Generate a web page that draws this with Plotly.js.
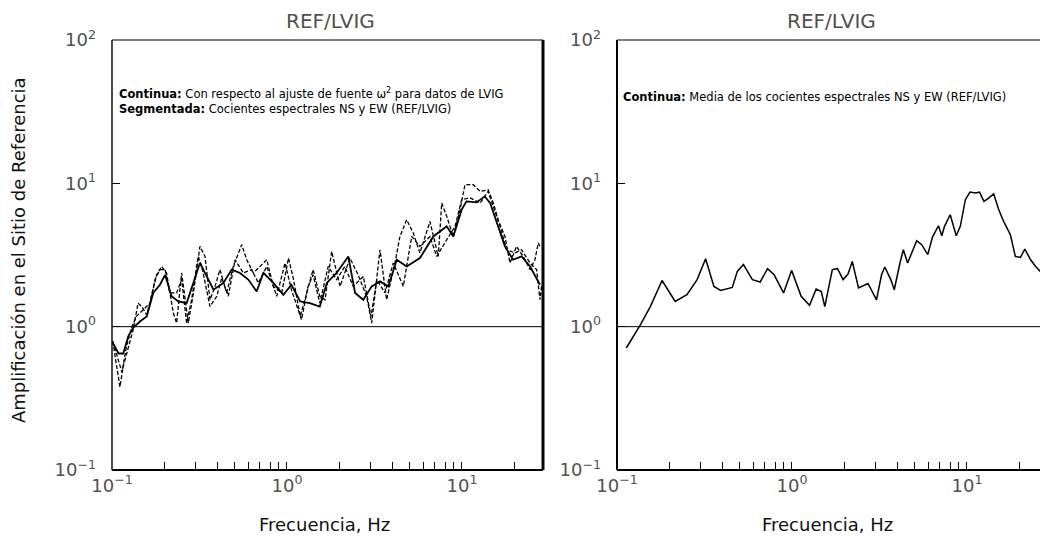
<!DOCTYPE html>
<html>
<head>
<meta charset="utf-8">
<script src="https://cdn.plot.ly/plotly-3.0.1.min.js"></script>
<style>
html,body{margin:0;padding:0;overflow:hidden;background:#fff;}
#chart{width:1060px;height:539px;}
</style>
</head>
<body>
<div id="chart"></div>
<script>
// ---------- DATA ----------
// Left panel: solid = ratio with respect to omega^2 source fit (LVIG)
const leftSolidFreq = [0.100,0.109,0.116,0.124,0.132,0.145,0.158,0.172,0.188,0.201,0.219,0.239,0.267,0.292,0.318,0.348,0.380,0.433,0.483,0.539,0.601,0.671,0.733,0.836,0.953,1.06,1.19,1.35,1.54,1.69,1.92,2.24,2.45,2.73,3.05,3.40,3.79,4.24,4.83,5.75,6.86,8.18,8.92,9.96,10.6,12.1,13.5,14.5,15.8,17.6,19.6,21.9,24.5,26.7,27.9];
const leftSolidAmp  = [0.79,0.65,0.65,0.86,0.98,1.09,1.18,1.72,1.96,2.30,1.63,1.50,1.46,2.02,2.78,2.24,1.81,2.02,2.50,2.37,2.13,1.76,2.37,2.02,1.67,1.96,1.50,1.46,1.38,2.02,2.37,3.09,1.72,1.54,1.91,2.07,1.91,2.93,2.63,3.01,4.26,5.01,4.26,6.55,7.48,7.36,8.11,7.28,5.28,3.63,2.93,3.09,2.63,2.13,1.96];
// Left panel: dashed = NS and EW spectral ratios (REF/LVIG)
const leftDashNSFreq = [0.101,0.111,0.116,0.124,0.132,0.141,0.148,0.158,0.169,0.180,0.192,0.205,0.224,0.234,0.250,0.261,0.273,0.292,0.318,0.340,0.363,0.388,0.414,0.452,0.493,0.551,0.589,0.642,0.701,0.766,0.836,0.933,1.02,1.09,1.19,1.30,1.41,1.54,1.65,1.80,2.01,2.29,2.55,2.85,3.05,3.40,3.71,4.14,4.42,4.83,5.27,5.75,6.56,7.32,7.66,8.18,8.92,9.75,10.4,11.6,12.7,14.1,15.1,16.1,17.6,18.8,20.5,22.4,24.5,26.1,27.3,27.9];
const leftDashNSAmp  = [0.79,0.38,0.53,0.73,0.95,1.46,1.38,1.21,1.72,2.30,2.63,2.37,1.25,1.06,2.37,1.54,1.06,1.72,3.63,3.09,1.54,1.91,2.50,1.72,2.63,3.73,2.93,2.37,2.63,2.93,1.91,1.72,3.01,2.13,1.18,1.72,2.50,1.63,1.54,3.35,1.91,3.01,2.30,1.63,1.06,3.44,1.54,2.78,4.26,5.57,4.50,3.27,5.42,3.09,7.28,5.89,4.26,6.55,9.78,9.78,8.79,9.02,7.28,5.57,4.26,2.78,3.63,3.09,2.50,2.93,3.84,3.63];
const leftDashEWFreq = [0.101,0.109,0.114,0.121,0.130,0.138,0.151,0.165,0.176,0.188,0.201,0.214,0.234,0.250,0.267,0.285,0.311,0.326,0.363,0.397,0.424,0.462,0.505,0.563,0.628,0.686,0.766,0.873,0.975,1.06,1.21,1.32,1.41,1.54,1.72,1.92,2.14,2.39,2.73,3.02,3.26,3.63,4.05,4.62,5.16,5.75,6.56,7.17,8.18,9.13,9.96,11.1,12.7,14.1,15.1,16.5,18.0,20.1,21.9,24.5,26.7,27.9,28.5];
const leftDashEWAmp  = [0.79,0.59,0.48,0.73,1.00,1.18,1.31,1.46,2.13,2.50,2.50,1.72,1.72,2.13,1.06,1.54,3.09,2.63,1.38,1.63,2.19,1.63,2.93,2.37,2.50,2.02,2.63,1.63,2.78,1.81,1.12,1.91,2.30,1.46,2.63,2.13,2.63,1.91,2.24,1.18,2.13,1.72,2.78,1.91,4.26,3.63,4.26,3.09,4.04,5.01,7.69,7.93,7.28,8.79,6.89,5.01,3.44,3.27,3.44,2.78,2.50,1.54,1.91];
// Right panel: mean of NS and EW spectral ratios (REF/LVIG)
const rightMeanFreq = [0.113,0.136,0.155,0.181,0.215,0.251,0.287,0.321,0.358,0.391,0.456,0.487,0.528,0.594,0.658,0.725,0.791,0.895,0.995,1.128,1.26,1.374,1.47,1.54,1.70,1.82,1.96,2.09,2.21,2.40,2.72,3.04,3.25,3.39,3.67,3.84,4.14,4.33,4.58,4.83,5.16,5.51,5.97,6.35,6.87,7.18,7.44,8.02,8.68,9.16,9.79,10.4,11.2,11.8,12.5,13.3,14.2,15.2,16.2,17.7,18.9,20.2,21.4,23.1,24.7,26.7,28.5];
const rightMeanAmp  = [0.71,1.03,1.38,2.10,1.50,1.67,2.13,2.98,1.91,1.79,1.88,2.43,2.71,2.13,2.05,2.54,2.30,1.72,2.47,1.63,1.41,1.83,1.76,1.38,2.50,2.54,2.13,2.33,2.85,1.86,2.00,1.54,2.30,2.61,2.13,1.81,2.78,3.44,2.78,3.27,3.98,3.73,3.18,4.22,5.06,4.31,5.01,6.04,4.31,5.01,7.69,8.69,8.55,8.69,7.48,7.89,8.46,6.55,5.42,4.38,3.09,3.04,3.48,2.93,2.63,2.37,2.20];

// Tick labels
const xTickVals = [0.1,0.2,0.3,0.4,0.5,0.6,0.7,0.8,0.9,1,2,3,4,5,6,7,8,9,10,20];
const xTickText = ['10<sup>−1</sup>','','','','','','','','','10<sup>0</sup>','','','','','','','','','10<sup>1</sup>',''];
const yTickVals = [0.1,1,10,100];
const yTickText = ['10<sup>−1</sup>','10<sup>0</sup>','10<sup>1</sup>','10<sup>2</sup>'];

// ---------- LAYOUT ----------
const W = 1060, H = 539;
const px = v => v / W;
const py = v => 1 - v / H;
const TOP = 40, BOT = 470;
const L1 = 112, R1 = 543, L2 = 617, R2 = 1048;

const tickFont = {family:'DejaVu Sans, sans-serif', size:18, color:'#505050'};

function xAxis(d, anchor){
  return {type:'log', domain:d, range:[-1, 1.463], anchor:anchor,
    tickmode:'array', tickvals:xTickVals, ticktext:xTickText,
    ticks:'inside', ticklen:8, tickwidth:1, tickcolor:'#000',
    showline:false, showgrid:false, zeroline:false, tickfont:tickFont,
    ticklabelstandoff:3, fixedrange:true};
}
function yAxis(d, anchor){
  return {type:'log', domain:d, range:[-1, 2], anchor:anchor,
    tickmode:'array', tickvals:yTickVals, ticktext:yTickText,
    ticks:'inside', ticklen:8, tickwidth:1, tickcolor:'#000',
    showline:false, showgrid:false, zeroline:false, tickfont:tickFont,
    ticklabelstandoff:15, fixedrange:true};
}

const traces = [
  {x:leftDashNSFreq, y:leftDashNSAmp, xaxis:'x', yaxis:'y', mode:'lines',
   line:{color:'#000', width:1.3, dash:'4px,2px'}, hoverinfo:'skip'},
  {x:leftDashEWFreq, y:leftDashEWAmp, xaxis:'x', yaxis:'y', mode:'lines',
   line:{color:'#000', width:1.3, dash:'4px,2px'}, hoverinfo:'skip'},
  {x:leftSolidFreq, y:leftSolidAmp, xaxis:'x', yaxis:'y', mode:'lines',
   line:{color:'#000', width:1.8}, hoverinfo:'skip'},
  {x:rightMeanFreq, y:rightMeanAmp, xaxis:'x2', yaxis:'y2', mode:'lines',
   line:{color:'#000', width:1.5}, hoverinfo:'skip'}
];

function seg(x0,y0,x1,y1,w){
  return {type:'line', xref:'paper', yref:'paper', x0:px(x0), y0:py(y0), x1:px(x1), y1:py(y1),
          line:{color:'#000', width:w}};
}

const shapes = [
  // left box
  seg(L1,TOP,R1,TOP,1), seg(L1,BOT,R1,BOT,2.2), seg(L1,TOP,L1,BOT,1.4), seg(R1,TOP,R1,BOT,3),
  // right box
  seg(L2,TOP,R2,TOP,1), seg(L2,BOT,R2,BOT,2.2), seg(L2,TOP,L2,BOT,2), seg(R2,TOP,R2,BOT,3),
  // unit amplification reference lines
  {type:'line', xref:'x domain', yref:'y', x0:0, x1:1, y0:1, y1:1, line:{color:'#000', width:1}},
  {type:'line', xref:'x2 domain', yref:'y2', x0:0, x1:1, y0:1, y1:1, line:{color:'#000', width:1}}
];

const txtFont = {family:'DejaVu Sans, sans-serif', size:11.5, color:'#000'};
const titleFont = {family:'DejaVu Sans, sans-serif', size:20, color:'#505050'};
const labFont = {family:'DejaVu Sans, sans-serif', size:18, color:'#111'};
const annotations = [
  {text:'REF/LVIG', xref:'paper', yref:'paper', x:px(330), y:py(21), xanchor:'center', yanchor:'middle', showarrow:false, font:titleFont},
  {text:'REF/LVIG', xref:'paper', yref:'paper', x:px(831), y:py(21), xanchor:'center', yanchor:'middle', showarrow:false, font:titleFont},
  {text:'Frecuencia, Hz', xref:'paper', yref:'paper', x:px(324), y:py(524), xanchor:'center', yanchor:'middle', showarrow:false, font:labFont},
  {text:'Frecuencia, Hz', xref:'paper', yref:'paper', x:px(827), y:py(524), xanchor:'center', yanchor:'middle', showarrow:false, font:labFont},
  {text:'Amplificación en el Sitio de Referencia', xref:'paper', yref:'paper', x:px(18), y:py(250),
   xanchor:'center', yanchor:'middle', textangle:-90, showarrow:false, font:labFont},
  {text:'<b>Continua:</b> Con respecto al ajuste de fuente ω<sup>2</sup> para datos de LVIG',
   xref:'paper', yref:'paper', x:px(117), y:py(94), xanchor:'left', yanchor:'middle', showarrow:false, font:txtFont},
  {text:'<b>Segmentada:</b> Cocientes espectrales NS y EW (REF/LVIG)',
   xref:'paper', yref:'paper', x:px(117), y:py(109), xanchor:'left', yanchor:'middle', showarrow:false, font:txtFont},
  {text:'<b>Continua:</b> Media de los cocientes espectrales NS y EW (REF/LVIG)',
   xref:'paper', yref:'paper', x:px(621), y:py(97), xanchor:'left', yanchor:'middle', showarrow:false, font:txtFont}
];

const layout = {
  width:W, height:H, margin:{l:0,r:0,t:0,b:0,pad:0},
  paper_bgcolor:'#fff', plot_bgcolor:'rgba(0,0,0,0)', showlegend:false,
  xaxis:xAxis([px(L1), px(R1)], 'y'),
  yaxis:yAxis([py(BOT), py(TOP)], 'x'),
  xaxis2:xAxis([px(L2), px(R2)], 'y2'),
  yaxis2:yAxis([py(BOT), py(TOP)], 'x2'),
  shapes:shapes, annotations:annotations
};

Plotly.newPlot('chart', traces, layout, {staticPlot:true, displayModeBar:false});
</script>
</body>
</html>
